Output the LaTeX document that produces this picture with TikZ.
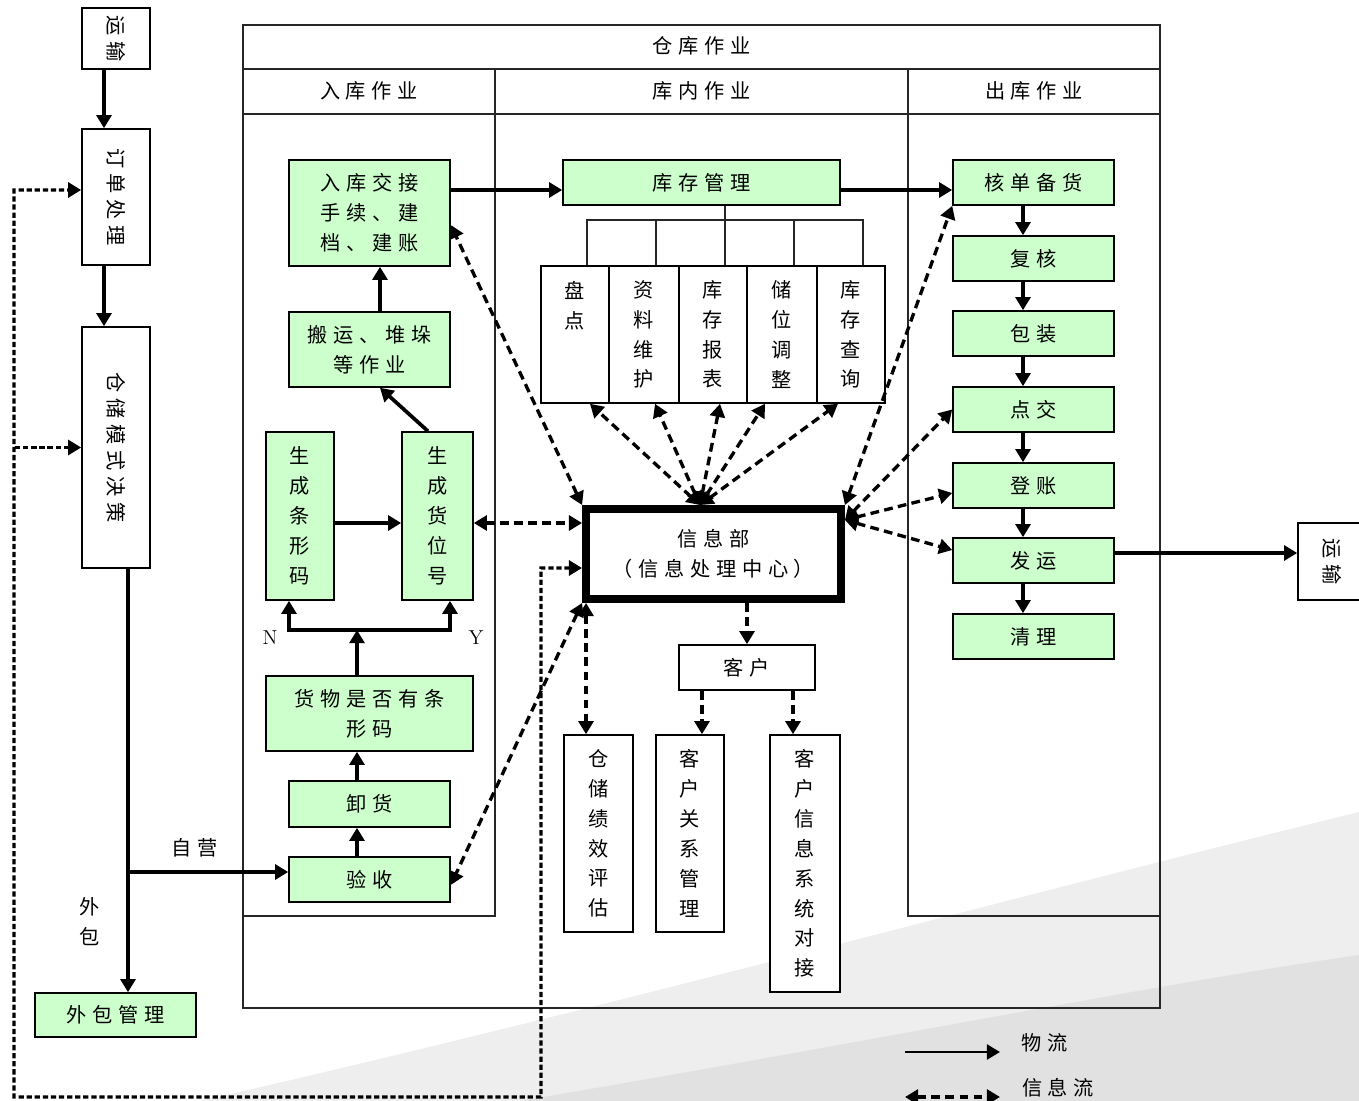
\documentclass[tikz,border=0pt]{standalone}
\usepackage{fontspec}
\usetikzlibrary{arrows.meta,positioning}
\newfontfamily\cjk[LetterSpace=28]{Noto Sans CJK SC}
\newfontfamily\cjkv{Noto Sans CJK SC}
\definecolor{whGreen}{RGB}{204,255,204}
\definecolor{whShade}{RGB}{238,238,238}
\definecolor{whShadeDk}{RGB}{225,225,225}

\begin{document}
\begin{tikzpicture}[
  x=0.02cm, y=-0.02cm,
  font=\cjk\fontsize{11.5}{17}\selectfont,
  >={Triangle[length=7.5pt,width=8.5pt]},
  frame/.style={draw=black!85, line width=0.8pt},
  box/.style={draw=black, line width=0.9pt, fill=white, inner sep=0pt, align=center},
  gbox/.style={box, fill=whGreen},
  vtext/.style={font=\cjkv\fontsize{11.5}{17}\selectfont},
  flow/.style={->, line width=2.1pt},
  info/.style={<->, line width=1.9pt, dash pattern=on 5pt off 3pt},
  infoto/.style={->, line width=1.9pt, dash pattern=on 5pt off 3pt},
  loopline/.style={<->, line width=1.9pt, dash pattern=on 3pt off 1.6pt},
  lbl/.style={inner sep=1pt}
]
\useasboundingbox (0,0) rectangle (1359,1101);

% background swoosh
\fill[whShade] (200,1101) .. controls (600,1010) and (1000,900) .. (1359,812) -- (1359,1101) -- cycle;
\fill[whShadeDk] (520,1101) .. controls (880,1040) and (1150,985) .. (1359,955) -- (1359,1101) -- cycle;

% warehouse frame
\draw[frame] (243,25) rectangle (1160,1008);
\draw[frame] (243,69) -- (1160,69);
\draw[frame] (243,114) -- (1160,114);
\draw[frame] (495,69) -- (495,916) -- (243,916);
\draw[frame] (908,69) -- (908,916) -- (1160,916);
\node[lbl] (ckzy) at (701.5,46) {仓库作业};
\node[lbl] (rkzy) at (369,91) {入库作业};
\node[lbl] (knzy) at (701.5,91) {库内作业};
\node[lbl] (ckzy2) at (1034,91) {出库作业};

% left column
\node[box, rotate=-90, minimum width=1.22cm, minimum height=1.36cm] (ysA) at (116,38.5) {运输};
\node[box, rotate=-90, minimum width=2.72cm, minimum height=1.36cm] (dd) at (116,197) {订单处理};
\node[box, rotate=-90, minimum width=4.82cm, minimum height=1.36cm] (ms) at (116,447.5) {仓储模式决策};
\node[gbox, minimum width=3.22cm, minimum height=0.88cm] (wb) at (115.5,1015) {外包管理};
\node[lbl] (zy) at (195,848) {自营};
\node[lbl, vtext, align=center] (wbl) at (90,922) {外\\包};

% inbound
\node[gbox, minimum width=3.22cm, minimum height=2.12cm] (rk) at (369.5,213) {入库交接\\手续、建\\档、建账};
\node[gbox, minimum width=3.22cm, minimum height=1.5cm] (by) at (369.5,349.5) {搬运、堆垛\\等作业};
\node[gbox, vtext, minimum width=1.36cm, minimum height=3.36cm] (txm) at (300,516) {生\\成\\条\\形\\码};
\node[gbox, vtext, minimum width=1.42cm, minimum height=3.36cm] (hwh) at (437.5,516) {生\\成\\货\\位\\号};
\node[gbox, minimum width=4.14cm, minimum height=1.5cm] (sf) at (369.5,713.5) {货物是否有条\\形码};
\node[gbox, minimum width=3.22cm, minimum height=0.92cm] (xh) at (369.5,804) {卸货};
\node[gbox, minimum width=3.22cm, minimum height=0.9cm] (ys) at (369.5,879.5) {验收};
\node[lbl, font=\normalfont\fontsize{11.5}{14}\selectfont] (nl) at (270,638) {N};
\node[lbl, font=\normalfont\fontsize{11.5}{14}\selectfont] (yl) at (476,638) {Y};
\coordinate (fork) at (357,630);

% storage
\node[gbox, minimum width=5.54cm, minimum height=0.9cm] (kc) at (701.5,182.5) {库存管理};
\node[box, vtext, minimum width=1.36cm, minimum height=2.74cm] (pd) at (575,334.5) {盘\\点\\~\\~};
\node[box, vtext, minimum width=1.4cm, minimum height=2.74cm] (zl) at (644,334.5) {资\\料\\维\\护};
\node[box, vtext, minimum width=1.36cm, minimum height=2.74cm] (bb) at (713,334.5) {库\\存\\报\\表};
\node[box, vtext, minimum width=1.4cm, minimum height=2.74cm] (cw) at (782,334.5) {储\\位\\调\\整};
\node[box, vtext, minimum width=1.36cm, minimum height=2.74cm] (cx) at (851,334.5) {库\\存\\查\\询};
\coordinate (tr) at (725,220);
\node[box, line width=4.5pt, minimum width=5.1cm, minimum height=1.8cm] (xx) at (713.5,554) {信息部\\（信息处理中心）};
\node[box, minimum width=2.72cm, minimum height=0.9cm] (kh) at (747,667.5) {客户};
\node[box, vtext, minimum width=1.38cm, minimum height=3.94cm] (jx) at (598.5,833.5) {仓\\储\\绩\\效\\评\\估};
\node[box, vtext, minimum width=1.36cm, minimum height=3.94cm] (gx) at (690,833.5) {客\\户\\关\\系\\管\\理};
\node[box, vtext, minimum width=1.4cm, minimum height=5.14cm] (dj) at (805,863.5) {客\\户\\信\\息\\系\\统\\对\\接};
\coordinate (xt) at ([xshift=-0.27cm]xx.north);
\coordinate (xr) at ([yshift=0.68cm]xx.east);

% outbound
\node[gbox, minimum width=3.22cm, minimum height=0.9cm] (hd) at (1033.5,182.5) {核单备货};
\node[gbox, minimum width=3.22cm, minimum height=0.9cm] (fh) at (1033.5,258.5) {复核};
\node[gbox, minimum width=3.22cm, minimum height=0.9cm] (bz) at (1033.5,333.5) {包装};
\node[gbox, minimum width=3.22cm, minimum height=0.9cm] (dx) at (1033.5,409.5) {点交};
\node[gbox, minimum width=3.22cm, minimum height=0.9cm] (dz) at (1033.5,485.5) {登账};
\node[gbox, minimum width=3.22cm, minimum height=0.9cm] (fy) at (1033.5,560.5) {发运};
\node[gbox, minimum width=3.22cm, minimum height=0.9cm] (ql) at (1033.5,636.5) {清理};
\node[box, rotate=-90, minimum width=1.54cm, minimum height=1.36cm] (ysB) at (1332,561.5) {运输};

% material flow
\draw[flow] ([xshift=-0.24cm]ysA.east) -- ([xshift=-0.24cm]dd.west);
\draw[flow] ([xshift=-0.24cm]dd.east) -- ([xshift=-0.24cm]ms.west);
\draw[flow] ([xshift=0.24cm]ms.east) -- ([xshift=0.25cm]wb.north);
\coordinate (jn) at (128,872);
\draw[flow] (jn) -- ([yshift=0.15cm]ys.west);
\draw[flow] ([xshift=-0.25cm]ys.north) -- ([xshift=-0.25cm]xh.south);
\draw[flow] ([xshift=-0.25cm]xh.south |- xh.north) -- ([xshift=-0.25cm]sf.south);
\draw[flow] ([xshift=-0.25cm]sf.north) -- (fork);
\draw[flow] (fork) -| ([xshift=-0.22cm]txm.south);
\draw[flow] (fork) -| ([xshift=0.25cm]hwh.south);
\draw[flow] ([yshift=-0.14cm]txm.east) -- ([yshift=-0.14cm]hwh.west);
\draw[flow] ([xshift=-0.19cm]hwh.north) -- ([xshift=0.21cm]by.south);
\draw[flow] ([xshift=0.21cm]by.north) -- ([xshift=0.21cm]rk.south);
\draw[flow] ([yshift=0.46cm]rk.east) -- ([yshift=0.46cm]rk.east -| kc.west);
\draw[flow] ([yshift=-0.15cm]kc.east) -- ([yshift=-0.15cm]hd.west);
\draw[frame] (kc.south -| tr) -- (tr);
\foreach \n in {pd,zl,bb,cw,cx}
  \draw[frame] ([xshift=0.24cm]\n.north) |- (tr);
\foreach \a/\b in {hd/fh,fh/bz,bz/dx,dx/dz,dz/fy,fy/ql}
  \draw[flow] ([xshift=-0.21cm]\a.south) -- ([xshift=-0.21cm]\b.north);
\draw[flow] ([yshift=0.15cm]fy.east) -- ([yshift=0.15cm]fy.east -| ysB.south);

% information flow
\draw[info] (xx.north west) -- ([yshift=-0.24cm]rk.east);
\draw[info] ([yshift=-0.14cm]hwh.east) -- ([yshift=-0.14cm]hwh.east -| xx.west);
\draw[info] (xx.south west) -- ([yshift=-0.11cm]ys.east);
\draw[info] ([xshift=-0.25cm]jx.north |- xx.south) -- ([xshift=-0.25cm]jx.north);
\foreach \n/\s in {pd/0.3,zl/0.22,bb/0.14,cw/-0.34,cx/-0.26}
  \draw[info] (xt) -- ([xshift=\s cm]\n.south);
\draw[info] (xx.north east) -- (hd.south west);
\draw[info] (xr) -- (dx.west);
\draw[info] (xr) -- ([yshift=-0.15cm]dz.west);
\draw[info] (xr) -- ([yshift=0.21cm]fy.west);
\draw[infoto] (kh.north |- xx.south) -- (kh.north);
\draw[infoto] ([xshift=0.24cm]gx.north |- kh.south) -- ([xshift=0.24cm]gx.north);
\draw[infoto] ([xshift=-0.24cm]dj.north |- kh.south) -- ([xshift=-0.24cm]dj.north);
\coordinate (lpA) at (541,1097);
\coordinate (lpB) at (14,190);
\draw[loopline] ([yshift=-0.28cm]xx.west) -| (lpA) -| (lpB) -- ([yshift=0.14cm]dd.south);
\draw[loopline, <-] (ms.south) -- (ms.south -| lpB);

% legend
\coordinate (lgA) at (905,1052);
\coordinate (lgB) at (1000,1052);
\coordinate (lgC) at (905,1097);
\coordinate (lgD) at (1000,1097);
\draw[flow, line width=1.6pt] (lgA) -- (lgB);
\draw[info] (lgC) -- (lgD);
\node[lbl] (wl) at (1045,1043) {物流};
\node[lbl] (xl) at (1058,1088) {信息流};
\end{tikzpicture}
\end{document}
